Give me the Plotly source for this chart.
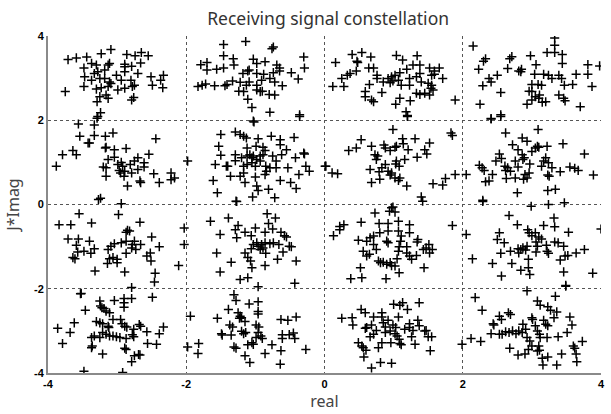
import plotly.graph_objects as go

# Received points per constellation symbol (real, imag)
c_m3_p3 = [(-3.71,3.44),(-3.59,3.48),(-3.44,3.50),(-3.23,3.58),(-3.09,3.68),(-2.86,3.56),(-2.74,3.53),(-2.65,3.61),
 (-2.55,3.53),(-2.66,3.36),(-3.37,3.35),(-3.48,3.24),(-3.30,3.31),(-3.13,3.31),(-3.11,3.35),(-2.89,3.33),(-2.89,3.27),
 (-2.79,3.28),(-3.47,3.03),(-3.33,3.11),(-3.28,3.15),(-3.18,3.19),(-3.01,3.07),(-2.89,3.15),(-2.70,3.11),(-2.51,3.03),
 (-2.33,3.07),(-2.37,2.95),(-3.37,2.95),(-3.25,2.99),(-3.18,2.99),(-3.11,2.91),(-3.09,2.87),(-2.94,2.95),(-2.80,2.95),
 (-2.75,2.83),(-3.48,2.80),(-3.30,2.74),(-3.23,2.77),(-3.13,2.80),(-2.99,2.72),(-2.89,2.76),(-2.78,2.80),(-2.49,2.83),
 (-2.34,2.77),(-3.75,2.68),(-3.16,2.60),(-3.25,2.56),(-3.13,2.52),(-3.29,2.44),(-2.76,2.54),(-2.79,2.48),(-3.24,2.18),
 (-3.28,2.09)]
c_m1_p3 = [(-1.46,3.80),(-1.14,3.87),(-0.74,3.74),(-0.76,3.70),(-1.46,3.53),(-1.32,3.46),(-1.79,3.32),(-1.70,3.37),
 (-1.70,3.19),(-1.56,3.21),(-1.46,3.24),(-1.31,3.31),(-1.03,3.45),(-0.98,3.35),(-0.86,3.39),(-0.69,3.31),(-0.65,3.24),
 (-0.30,3.50),(-0.29,3.24),(-1.18,3.11),(-1.11,3.17),(-1.09,3.19),(-0.98,3.11),(-0.88,3.09),(-0.74,3.13),(-0.65,3.17),
 (-0.48,3.13),(-0.38,2.98),(-1.83,2.80),(-1.77,2.83),(-1.72,2.86),(-1.59,2.82),(-1.41,2.85),(-1.44,2.82),(-1.33,2.93),
 (-1.22,2.90),(-1.13,2.83),(-1.09,2.91),(-0.98,2.83),(-0.91,2.95),(-0.79,2.99),(-0.72,2.91),(-0.61,2.82),(-1.24,2.69),
 (-1.17,2.68),(-0.98,2.72),(-0.93,2.68),(-0.90,2.69),(-0.80,2.61),(-0.72,2.60),(-1.11,2.50),(-1.05,2.30),(-0.79,2.19),
 (-0.36,2.13),(-1.03,1.98)]
c_p1_p3 = [(0.16,3.37),(0.12,2.80),(0.28,2.80),(0.25,2.99),(0.33,3.07),(0.37,3.11),(0.40,3.56),(0.54,3.61),(0.47,3.40),
 (0.48,3.37),(0.46,3.17),(0.67,3.50),(0.64,3.24),(0.71,3.24),(0.76,3.07),(0.76,2.99),(0.65,2.85),(0.59,2.68),(0.59,2.56),
 (0.68,2.48),(0.71,2.44),(0.83,2.66),(0.85,2.91),(0.92,2.99),(0.97,3.03),(1.02,3.07),(0.95,2.89),(0.99,2.93),(1.04,3.54),
 (1.13,3.43),(1.09,3.13),(1.07,2.95),(1.19,3.21),(1.11,2.83),(1.23,2.99),(1.23,2.83),(1.03,2.38),(1.09,2.52),(1.24,2.46),
 (1.18,2.20),(1.20,2.11),(1.34,3.53),(1.28,3.31),(1.38,3.31),(1.40,2.91),(1.38,3.11),(1.33,3.03),(1.52,3.24),(1.59,3.17),
 (1.66,3.24),(1.55,3.07),(1.59,3.09),(1.71,2.99),(1.50,2.88),(1.55,2.83),(1.54,2.76),(1.33,2.64),(1.38,2.61),(1.45,2.64),
 (1.52,2.60),(1.57,2.72),(1.89,2.48)]
c_p3_p3 = [(2.15,3.76),(2.30,3.40),(2.33,3.46),(2.23,3.21),(2.38,2.99),(2.41,2.91),(2.29,2.82),(2.25,2.38),(2.41,2.03),
 (2.55,2.13),(2.50,3.07),(2.65,3.23),(2.68,3.46),(2.71,3.51),(2.55,2.66),(2.81,3.17),(2.84,3.15),(2.85,3.21),(2.98,3.53),
 (3.06,3.32),(3.04,3.09),(3.17,3.09),(3.24,3.07),(3.29,2.99),(3.33,3.95),(3.33,3.78),(3.22,3.61),(3.33,3.61),(3.44,3.56),
 (3.44,3.35),(3.39,3.07),(3.43,2.99),(3.47,2.83),(3.00,2.85),(3.09,2.85),(3.14,2.83),(2.96,2.69),(3.00,2.68),(3.05,2.56),
 (3.10,2.52),(3.11,2.60),(3.00,2.48),(3.15,2.43),(3.20,2.44),(2.93,2.38),(3.39,2.60),(3.46,2.52),(3.48,2.46),(3.59,2.85),
 (3.64,3.09),(3.81,3.32),(3.81,3.09),(3.98,3.29),(3.87,2.80),(3.70,2.32)]
c_m3_p1 = [(-3.56,1.91),(-3.33,1.89),(-3.29,2.05),(-3.54,1.62),(-3.33,1.64),(-3.17,1.62),(-3.06,1.70),(-3.42,1.46),
 (-3.40,1.46),(-3.79,1.18),(-3.64,1.28),(-3.59,1.18),(-3.88,0.91),(-3.16,1.36),(-3.17,1.34),(-3.04,1.30),(-2.87,1.33),
 (-2.44,1.56),(-3.13,1.07),(-3.04,1.12),(-3.20,0.89),(-3.16,0.87),(-3.16,0.67),(-2.99,0.95),(-2.94,1.00),(-2.92,0.91),
 (-2.97,0.81),(-2.89,0.79),(-2.95,0.75),(-2.90,0.67),(-2.85,0.44),(-2.81,0.95),(-2.75,1.03),(-2.70,1.11),(-2.79,0.75),
 (-2.70,0.83),(-2.61,0.99),(-2.61,0.89),(-2.54,1.19),(-2.66,0.52),(-2.67,0.56),(-2.47,0.73),(-2.39,0.52),(-2.22,0.75),
 (-2.22,0.59),(-2.17,0.63),(-3.24,0.15),(-3.27,0.12),(-2.94,0.02),(-1.98,1.03)]
c_m1_p1 = [(-1.02,1.96),(-0.36,2.09),(-1.50,1.66),(-1.29,1.72),(-1.22,1.66),(-1.17,1.62),(-1.13,1.58),(-0.96,1.56),
 (-1.53,1.38),(-1.50,1.17),(-1.12,1.34),(-0.99,1.38),(-0.89,1.36),(-0.86,1.28),(-0.77,1.62),(-0.64,1.54),(-0.64,1.42),
 (-0.44,1.59),(-0.55,1.30),(-0.62,1.18),(-0.30,1.22),(-0.29,1.20),(-0.42,1.11),(-1.29,1.18),(-1.58,0.95),(-1.42,0.91),
 (-1.40,0.91),(-1.29,1.04),(-1.20,1.11),(-1.12,1.15),(-1.08,1.18),(-1.05,1.11),(-1.03,1.15),(-0.98,1.07),(-0.93,1.15),
 (-0.89,1.18),(-1.17,0.91),(-1.12,0.95),(-1.05,0.99),(-1.00,0.91),(-0.93,1.03),(-0.75,1.15),(-0.70,1.03),(-0.85,0.91),
 (-0.79,0.87),(-0.70,0.87),(-0.53,0.87),(-0.27,0.91),(-0.22,0.79),(-0.37,0.71),(-1.36,0.67),(-1.22,0.67),(-1.17,0.75),
 (-1.00,0.65),(-0.86,0.71),(-0.84,0.79),(-1.61,0.57),(-1.15,0.52),(-0.98,0.44),(-0.96,0.33),(-1.04,0.18),(-0.81,0.36),
 (-0.72,0.16),(-0.64,0.57),(-0.49,0.52),(-0.41,0.38),(-1.55,0.28),(-1.28,0.08),(0.02,0.91)]
c_p1_p1 = [(1.20,2.09),(0.01,0.91),(0.11,0.75),(0.19,0.73),(0.35,1.28),(0.46,1.34),(0.53,1.54),(0.68,1.38),(0.99,1.78),
 (0.86,1.41),(0.88,1.34),(0.95,1.28),(1.02,1.36),(1.04,1.38),(1.13,1.56),(1.14,1.44),(1.21,1.30),(1.31,1.56),(1.52,1.46),
 (1.45,1.30),(1.48,1.20),(1.34,1.12),(1.83,1.70),(1.85,1.64),(0.73,1.18),(0.77,1.15),(0.75,1.07),(0.66,0.83),(0.79,0.78),
 (0.83,0.87),(0.88,0.95),(0.92,0.79),(0.95,0.70),(0.97,0.75),(1.04,1.03),(1.08,0.91),(1.03,0.96),(1.16,1.07),(1.02,0.63),
 (1.07,0.57),(1.09,0.63),(0.68,0.52),(0.80,0.60),(1.19,0.44),(1.40,0.18),(1.57,0.49),(1.71,0.46),(1.75,0.62),(1.89,0.71),
 (0.99,-0.06)]
c_p3_p1 = [(2.41,2.04),(2.55,2.09),(2.05,0.71),(2.62,1.70),(3.09,1.78),(2.86,1.58),(2.93,1.50),(2.72,1.42),(2.80,1.30),
 (2.86,1.18),(2.89,1.11),(3.00,1.26),(3.05,1.34),(3.08,1.38),(3.10,1.36),(3.22,1.38),(3.45,1.44),(2.53,1.20),(2.56,1.09),
 (2.48,1.03),(2.24,0.93),(2.28,0.87),(2.31,0.81),(2.43,0.71),(2.38,0.56),(2.33,0.54),(2.61,0.91),(2.65,0.87),(2.62,0.81),
 (2.69,0.79),(2.63,0.62),(2.76,0.63),(2.76,1.03),(2.80,0.89),(2.87,1.07),(2.97,0.96),(2.90,0.71),(2.93,0.63),(2.88,0.60),
 (2.96,0.75),(3.14,0.91),(3.17,1.03),(3.20,1.11),(3.24,0.99),(3.29,0.87),(3.23,0.70),(3.25,0.67),(3.41,0.78),(3.55,0.89),
 (3.62,0.86),(3.67,0.81),(3.76,1.20),(3.89,0.70),(3.23,0.33),(3.34,0.36),(2.79,0.28),(2.29,0.10),(2.99,-0.04),(3.24,0.00),
 (3.47,0.04)]
c_m3_m1 = [(-3.55,-0.22),(-2.98,-0.24),(-3.84,-0.48),(-3.67,-0.48),(-3.37,-0.44),(-2.67,-0.42),(-2.85,-0.61),(-2.87,-0.66),
 (-2.82,-0.63),(-3.71,-0.82),(-3.56,-0.82),(-3.59,-0.97),(-3.57,-1.13),(-3.61,-1.29),(-3.64,-1.26),(-3.48,-1.11),
 (-3.40,-0.87),(-3.33,-1.05),(-3.38,-1.16),(-3.13,-1.07),(-3.11,-1.29),(-3.14,-1.40),(-3.09,-0.99),(-3.04,-0.93),
 (-2.94,-0.91),(-2.87,-0.87),(-3.06,-1.26),(-3.00,-1.38),(-3.00,-1.30),(-2.87,-1.16),(-2.78,-0.95),(-2.75,-0.87),
 (-2.79,-1.03),(-2.73,-1.07),(-2.66,-0.95),(-2.50,-0.77),(-2.57,-1.22),(-2.52,-1.15),(-2.51,-1.34),(-2.39,-1.00),
 (-3.32,-1.58),(-2.89,-1.60),(-2.45,-1.63),(-2.46,-1.84),(-2.11,-1.45),(-2.79,-1.97),(-2.03,-0.56),(-2.03,-0.95),
 (-3.52,-2.11)]
c_m1_m1 = [(-1.27,0.07),(-1.65,-0.40),(-1.39,-0.32),(-1.51,-0.71),(-1.56,-1.15),(-1.29,-0.60),(-1.27,-0.79),(-1.25,-0.50),
 (-1.15,-0.66),(-1.06,-0.74),(-1.00,-0.56),(-0.83,-0.22),(-0.71,-0.32),(-0.86,-0.66),(-0.81,-0.45),(-0.75,-0.58),
 (-0.63,-0.66),(-0.58,-0.74),(-0.55,-0.77),(-1.35,-1.37),(-1.51,-1.60),(-1.22,-1.78),(-1.11,-1.74),(-1.15,-1.15),
 (-1.11,-1.26),(-1.07,-1.34),(-1.06,-1.05),(-1.03,-0.95),(-0.98,-0.91),(-0.96,-0.99),(-0.93,-1.07),(-0.89,-1.03),
 (-0.91,-0.95),(-0.85,-1.16),(-0.86,-0.91),(-0.79,-0.93),(-0.74,-0.91),(-1.05,-1.50),(-0.86,-1.45),(-0.68,-1.30),
 (-0.66,-0.95),(-0.60,-1.13),(-0.51,-0.99),(-0.48,-1.00),(-0.41,-1.34),(-0.96,-1.95),(-0.43,-1.87)]
c_p1_m1 = [(1.42,0.08),(0.73,-0.20),(0.94,-0.16),(0.97,-0.08),(1.02,-0.18),(0.13,-0.74),(0.22,-0.60),(0.28,-0.48),
 (0.22,-0.52),(0.53,-0.42),(0.79,-0.45),(0.92,-0.45),(1.07,-0.40),(0.80,-0.67),(0.92,-0.63),(1.07,-0.63),(1.23,-0.48),
 (1.23,-0.67),(1.85,-0.50),(0.49,-0.85),(0.61,-0.87),(0.66,-0.79),(0.71,-0.75),(0.56,-1.11),(0.61,-1.22),(0.65,-1.18),
 (0.71,-0.95),(0.75,-1.07),(0.90,-0.87),(0.92,-0.91),(0.78,-1.34),(0.81,-1.38),(0.85,-1.37),(0.90,-1.42),(0.97,-1.45),
 (1.02,-1.46),(0.95,-1.38),(1.07,-1.11),(1.08,-1.00),(1.10,-0.87),(1.11,-0.75),(1.05,-1.29),(1.19,-1.00),(1.19,-1.15),
 (1.23,-1.22),(1.26,-1.30),(1.35,-0.83),(1.34,-0.89),(1.33,-1.21),(1.43,-1.07),(1.47,-1.03),(1.51,-0.95),(1.52,-1.15),
 (1.56,-1.07),(1.44,-1.50),(0.52,-1.50),(0.38,-1.76),(0.54,-1.74),(0.89,-1.76),(1.08,-1.62)]
c_p3_m1 = [(2.29,0.07),(2.05,-0.71),(2.67,-0.26),(2.79,-0.48),(2.53,-0.67),(2.50,-0.83),(2.60,-0.91),(2.55,-1.16),
 (2.14,-1.29),(2.43,-1.40),(2.69,-1.11),(2.71,-1.40),(2.80,-1.05),(2.84,-1.07),(2.87,-1.03),(2.91,-1.08),(2.93,-0.99),
 (2.81,-1.15),(2.94,-0.60),(2.96,-0.67),(3.00,-0.74),(3.05,-0.67),(3.10,-0.77),(3.14,-0.82),(3.06,-0.89),(3.08,-0.99),
 (3.06,-1.13),(2.95,-1.30),(2.95,-1.50),(2.84,-1.56),(2.97,-1.66),(2.56,-1.70),(3.32,-0.32),(3.33,-0.53),(3.17,-0.50),
 (3.22,-1.11),(3.24,-1.16),(3.21,-0.97),(3.33,-0.89),(3.38,-0.91),(3.46,-0.99),(3.41,-1.32),(3.48,-1.22),(3.52,-1.21),
 (3.64,-1.15),(3.76,-1.07),(3.53,-0.66),(3.46,-1.60),(3.49,-1.92),(3.88,-1.63),(4.00,-0.58),(2.93,-2.05)]
c_m3_m3 = [(-3.53,-2.12),(-3.25,-2.29),(-3.24,-2.41),(-3.22,-2.45),(-3.19,-2.47),(-3.04,-2.28),(-2.90,-2.23),(-2.90,-2.33),
 (-2.90,-2.44),(-2.79,-2.23),(-2.49,-2.20),(-3.46,-2.51),(-3.16,-2.53),(-3.11,-2.57),(-3.62,-2.81),(-3.68,-3.04),
 (-3.86,-2.94),(-3.79,-3.30),(-3.30,-2.78),(-3.25,-2.81),(-3.21,-2.83),(-3.13,-2.89),(-3.06,-2.73),(-2.95,-2.73),
 (-2.93,-2.83),(-2.89,-2.89),(-2.86,-2.91),(-2.76,-2.96),(-2.68,-2.85),(-2.66,-2.89),(-3.37,-3.16),(-3.33,-3.12),
 (-3.36,-3.36),(-3.37,-3.40),(-3.25,-3.16),(-3.21,-3.04),(-3.16,-3.08),(-3.11,-3.12),(-3.06,-3.12),(-3.01,-3.14),
 (-3.12,-2.92),(-2.96,-3.16),(-2.87,-3.18),(-2.78,-3.09),(-2.76,-3.14),(-2.57,-3.02),(-2.56,-3.30),(-2.43,-3.32),
 (-2.39,-3.07),(-2.33,-2.91),(-3.21,-3.55),(-2.89,-3.41),(-2.87,-3.44),(-2.75,-3.59),(-2.69,-3.56),(-2.67,-3.57),
 (-2.79,-3.73),(-3.48,-3.96),(-2.92,-3.99)]
c_m1_m3 = [(-1.94,-2.65),(-1.98,-3.38),(-1.82,-3.30),(-1.83,-3.54),(-1.31,-2.14),(-1.28,-2.28),(-1.09,-2.36),(-0.96,-2.31),
 (-0.96,-2.54),(-0.96,-2.60),(-1.39,-2.49),(-1.55,-2.70),(-1.25,-2.57),(-1.22,-2.65),(-1.20,-2.69),(-1.23,-2.70),
 (-1.15,-2.78),(-1.37,-2.86),(-1.33,-2.91),(-1.49,-3.07),(-1.48,-3.10),(-1.35,-3.10),(-1.20,-3.01),(-1.17,-3.07),
 (-1.14,-3.04),(-0.99,-2.86),(-0.95,-2.91),(-0.96,-3.04),(-0.92,-3.12),(-0.90,-3.18),(-0.99,-3.16),(-1.31,-3.38),
 (-1.28,-3.41),(-1.11,-3.33),(-1.05,-3.28),(-1.03,-3.32),(-1.15,-3.59),(-1.08,-3.75),(-0.86,-3.54),(-0.76,-3.33),
 (-0.63,-2.73),(-0.53,-2.75),(-0.41,-2.67),(-0.61,-3.09),(-0.51,-3.09),(-0.45,-3.05),(-0.43,-3.18),(-0.61,-3.18),
 (-0.63,-3.47),(-0.64,-3.79),(-0.27,-3.44)]
c_p1_m3 = [(1.99,-3.32),(0.25,-2.70),(0.40,-2.69),(0.41,-2.86),(0.53,-2.49),(0.59,-2.57),(0.71,-2.67),(0.83,-2.57),
 (0.83,-2.67),(1.00,-2.37),(1.09,-2.39),(1.13,-2.33),(1.20,-2.49),(1.37,-2.33),(1.07,-2.67),(0.92,-2.75),(0.99,-2.86),
 (0.59,-2.94),(0.61,-2.92),(0.68,-2.86),(0.75,-2.99),(0.71,-3.08),(0.66,-3.14),(0.85,-2.81),(0.88,-2.91),(0.88,-3.04),
 (0.95,-3.00),(1.02,-3.07),(1.05,-3.12),(1.08,-3.20),(1.03,-2.92),(1.09,-3.30),(1.11,-3.33),(0.96,-3.28),(1.16,-2.96),
 (1.23,-2.92),(1.23,-2.83),(1.28,-2.99),(1.35,-2.75),(1.37,-2.88),(1.47,-2.99),(1.45,-3.00),(1.26,-3.14),(1.31,-3.32),
 (1.50,-3.14),(1.55,-3.14),(1.53,-3.47),(0.49,-3.28),(0.54,-3.36),(0.56,-3.40),(0.60,-3.46),(0.57,-3.62),(0.83,-3.28),
 (0.78,-3.40),(0.81,-3.75),(0.97,-3.77),(0.68,-3.88)]
c_p3_m3 = [(3.49,-1.94),(2.18,-2.21),(2.28,-2.51),(2.12,-3.18),(2.26,-3.25),(2.41,-3.07),(2.44,-2.83),(2.45,-2.86),
 (2.53,-2.65),(2.56,-2.73),(2.66,-2.57),(2.69,-2.61),(2.53,-3.08),(2.57,-3.08),(2.62,-3.02),(2.67,-3.04),(2.72,-3.00),
 (2.77,-3.07),(2.81,-3.00),(2.86,-3.04),(2.87,-2.84),(2.91,-2.96),(3.08,-2.29),(3.12,-2.39),(3.00,-2.69),(3.01,-2.73),
 (3.34,-2.18),(3.23,-2.43),(3.27,-2.51),(3.36,-2.55),(3.32,-2.69),(3.17,-2.75),(3.20,-2.84),(3.23,-2.88),(3.05,-2.88),
 (3.08,-3.00),(3.11,-3.08),(3.12,-3.16),(3.22,-3.16),(2.93,-3.16),(2.97,-3.24),(3.00,-3.36),(2.95,-3.44),(2.90,-3.55),
 (3.10,-3.36),(3.11,-3.46),(3.08,-3.48),(2.68,-3.41),(2.80,-3.57),(3.15,-3.65),(3.23,-3.62),(3.43,-3.55),(3.38,-3.14),
 (3.51,-3.04),(3.55,-2.67),(3.58,-2.86),(3.60,-3.36),(3.62,-3.41),(3.64,-3.55),(3.65,-3.73),(3.73,-3.25),(3.36,-3.81),
 (3.16,-3.81)]

clusters = [c_m3_p3, c_m1_p3, c_p1_p3, c_p3_p3, c_m3_p1, c_m1_p1, c_p1_p1, c_p3_p1,
            c_m3_m1, c_m1_m1, c_p1_m1, c_p3_m1, c_m3_m3, c_m1_m3, c_p1_m3, c_p3_m3]
tick_vals = [-4, -2, 0, 2, 4]
tick_text = ["-4", "-2", "0", "2", "4"]

xs = [p[0] for c in clusters for p in c]
ys = [p[1] for c in clusters for p in c]

fig = go.Figure()
fig.add_trace(go.Scatter(
    x=xs, y=ys, mode="markers",
    marker=dict(symbol="cross-thin-open", size=6.5, color="black",
                line=dict(color="black", width=1.5)),
    hoverinfo="skip", showlegend=False, cliponaxis=True))

axis_common = dict(
    range=[-4, 4], tickvals=tick_vals, ticktext=tick_text,
    showgrid=True, gridcolor="#555555", gridwidth=1, griddash="dot",
    zeroline=False, showline=True, linecolor="#8a8a8a", linewidth=2,
    ticks="", tickfont=dict(family="Liberation Sans", size=11, color="black", weight="bold"),
    title_font=dict(family="Noto Sans", size=16, color="#444444"),
)
fig.update_xaxes(**axis_common, title_text="real", title_standoff=6)
fig.update_yaxes(**axis_common, title_text="J*Imag", title_standoff=10)

fig.update_layout(
    width=611, height=414,
    margin=dict(l=48, r=6, t=36, b=41),
    plot_bgcolor="white", paper_bgcolor="white",
    title=dict(text="Receiving signal constellation", x=0.537, xanchor="center", y=0.955, yanchor="middle",
               font=dict(family="Noto Sans", size=17.5, color="#333333")),
)
fig.write_html("out.html")
